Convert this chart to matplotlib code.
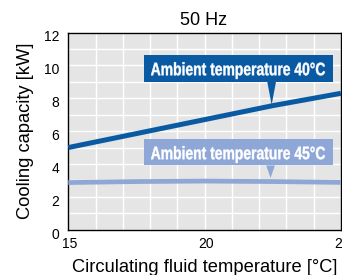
import matplotlib
matplotlib.use('Agg')
import matplotlib.pyplot as plt
from matplotlib.patches import Rectangle, Polygon, PathPatch
from matplotlib.textpath import TextPath
from matplotlib.font_manager import FontProperties
from matplotlib.transforms import Affine2D, IdentityTransform, ScaledTranslation
import numpy as np

# Data
fluid_temp = [15, 17.5, 20, 22.5, 25]
cap_40 = [5.0, 5.85, 6.7, 7.55, 8.3]
cap_45 = [2.87, 2.93, 2.96, 2.93, 2.88]

title = '50 Hz'
label_40 = 'Ambient temperature 40°C'
label_45 = 'Ambient temperature 45°C'
x_ticks = [15, 20, 25]
y_ticks = [0, 2, 4, 6, 8, 10, 12]

dark_blue = '#0a5aa3'
light_blue = '#8ea7d6'

plt.rcParams['font.family'] = ['Liberation Sans', 'DejaVu Sans']

fig = plt.figure(figsize=(3.42, 2.75), dpi=100)
ax = fig.add_axes([0.1997, 0.1647, 0.797, 0.717])
ax.set_facecolor('#e5e5e5')

ax.plot(fluid_temp, cap_40, color=dark_blue, lw=3.6, solid_capstyle='butt', zorder=3, clip_on=False)
ax.plot(fluid_temp, cap_45, color=light_blue, lw=3.4, solid_capstyle='butt', zorder=3, clip_on=False)

ax.set_xlim(15, 25)
ax.set_ylim(0, 12)
ax.set_xticks(x_ticks)
ax.set_yticks(y_ticks)
ax.set_xticks(np.arange(15, 26, 1), minor=True)
ax.set_yticks(np.arange(0, 13, 1), minor=True)
ax.grid(which='both', color='white', lw=1.0, zorder=1)
ax.set_axisbelow(True)
ax.tick_params(which='both', length=0)
ax.tick_params(axis='x', pad=5.5, labelsize=10)
ax.tick_params(axis='y', pad=6.5, labelsize=10)
for s in ax.spines.values():
    s.set_linewidth(1.0)
    s.set_color('black')

# y tick labels sit a little below their grid lines in the original
shift = ScaledTranslation(0, -2.4 / 72, fig.dpi_scale_trans)
for lab in ax.get_yticklabels():
    lab.set_transform(lab.get_transform() + shift)
shift_x = ScaledTranslation(1.2 / 72, 0, fig.dpi_scale_trans)
for lab in ax.get_xticklabels():
    lab.set_transform(lab.get_transform() + shift_x)

bold = FontProperties(family='Liberation Sans', weight='bold')


# label boxes with pointers; text squeezed to a condensed look
def tag(x0, x1, y0, y1, tip_x, tip_y, text, color):
    ax.add_patch(Rectangle((x0, y0), x1 - x0, y1 - y0, facecolor=color, edgecolor='none', zorder=4))
    ax.add_patch(Polygon([[tip_x - 0.16, y0], [tip_x + 0.16, y0], [tip_x, tip_y]],
                         closed=True, facecolor=color, edgecolor='none', zorder=4))
    size = 18.0
    tp = TextPath((0, 0), text, size=size, prop=bold)
    bb = tp.get_extents()
    cap = 0.716 * size
    sx = 174.0 / bb.width
    cx, cy = ax.transData.transform(((x0 + x1) / 2, (y0 + y1) / 2))
    tr = Affine2D().translate(-(bb.x0 + bb.width / 2), -cap / 2).scale(sx, 1).translate(cx - 0.5, cy - 0.5)
    ax.add_patch(PathPatch(tp, transform=tr + IdentityTransform(), facecolor='white',
                           edgecolor='white', lw=0.3, zorder=5, clip_on=False))


tag(17.77, 24.72, 9.0, 10.65, 22.46, 7.6, label_40, dark_blue)
tag(17.77, 24.72, 3.91, 5.52, 22.42, 3.15, label_45, light_blue)

fig.text(204 / 342, 1 - 25 / 275, title, fontsize=13, ha='center', va='baseline')
fig.text(25.5 / 342, 1 - 131 / 275, 'Cooling capacity [kW]', fontsize=13.2, rotation=90,
         rotation_mode='anchor', ha='center', va='center')
fig.text(205 / 342, 1 - 272.5 / 275, 'Circulating fluid temperature [°C]', fontsize=13.2,
         ha='center', va='baseline')

fig.savefig('out.png', dpi=100)
